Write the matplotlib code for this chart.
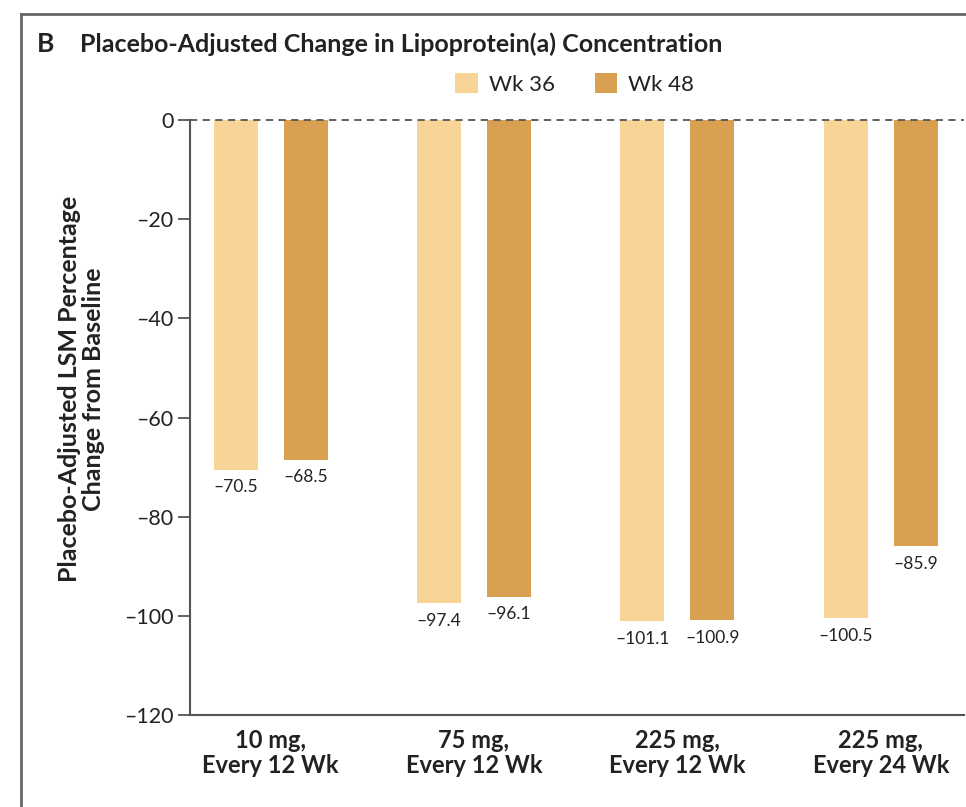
import numpy as np
import matplotlib
matplotlib.use('Agg')
import matplotlib.pyplot as plt
from matplotlib.lines import Line2D

plt.rcParams['font.family'] = ['Lato', 'DejaVu Sans']

# Données
groupes = ['10 mg,\nEvery 12 Wk', '75 mg,\nEvery 12 Wk', '225 mg,\nEvery 12 Wk', '225 mg,\nEvery 24 Wk']
wk36 = [-70.5, -97.4, -101.1, -100.5]
wk48 = [-68.5, -96.1, -100.9, -85.9]
series = ['Wk 36', 'Wk 48']
couleurs = ['#F8D597', '#D9A052']

fig = plt.figure(figsize=(9.66, 8.07), dpi=100)
ax = fig.add_axes([0.197, 0.114, 0.801, 0.737])

x = np.arange(len(groupes))
largeur = 0.217
decalage = 0.172

barres = []
for vals, off, c, nom in zip([wk36, wk48], [-decalage, decalage], couleurs, series):
    b = ax.bar(x + off, vals, width=largeur, color=c, label=nom, zorder=2)
    barres.append(b)
    for xi, v in zip(x + off, vals):
        ax.annotate(f'{v:.1f}'.replace('-', '\u2013'), (xi, v), xytext=(0, -7),
                    textcoords='offset points', ha='center', va='top',
                    fontsize=12.5, color='#222222')

ax.axhline(0, color='#555555', linestyle=(0, (4, 3)), linewidth=1.3, clip_on=False, zorder=3)

ax.set_xlim(-0.395, 3.41)
ax.set_ylim(-120, 0)
ax.set_yticks(np.arange(-120, 1, 20))
ax.set_yticklabels([str(t).replace('-', '\u2013') for t in np.arange(-120, 1, 20)], fontsize=15.5, color='#222222')
ax.set_xticks(x)
ax.set_xticklabels(groupes, fontsize=17, fontweight='bold', color='#222222', linespacing=1.1)
ax.tick_params(axis='x', length=0, pad=10)
ax.tick_params(axis='y', length=9, width=1.3, color='#555555', pad=3)

for s in ['top', 'right']:
    ax.spines[s].set_visible(False)
for s in ['left', 'bottom']:
    ax.spines[s].set_color('#555555')
    ax.spines[s].set_linewidth(1.5)

fig.text(0.084, 0.518, 'Placebo-Adjusted LSM Percentage\nChange from Baseline', rotation=90,
         ha='center', va='center', fontsize=18, fontweight='bold', color='#222222', linespacing=1.05)

# Titre
fig.text(0.038, 0.945, 'B', fontsize=19, fontweight='bold', color='#222222', va='center')
fig.text(0.083, 0.945, 'Placebo-Adjusted Change in Lipoprotein(a) Concentration', fontsize=18,
         fontweight='bold', color='#222222', va='center')

# Légende
fig.legend(handles=barres, labels=series, loc='center', bbox_to_anchor=(0.595, 0.896), ncol=2,
           frameon=False, fontsize=16, handlelength=1.0, handleheight=1.0, handletextpad=0.5,
           columnspacing=1.8, labelcolor='#222222')

# Cadre
fig.add_artist(Line2D([0.0217, 0.0217], [0, 0.983], color='#666666', linewidth=2))
fig.add_artist(Line2D([0.0217, 1], [0.983, 0.983], color='#666666', linewidth=2))

fig.savefig('out.png', dpi=100)
